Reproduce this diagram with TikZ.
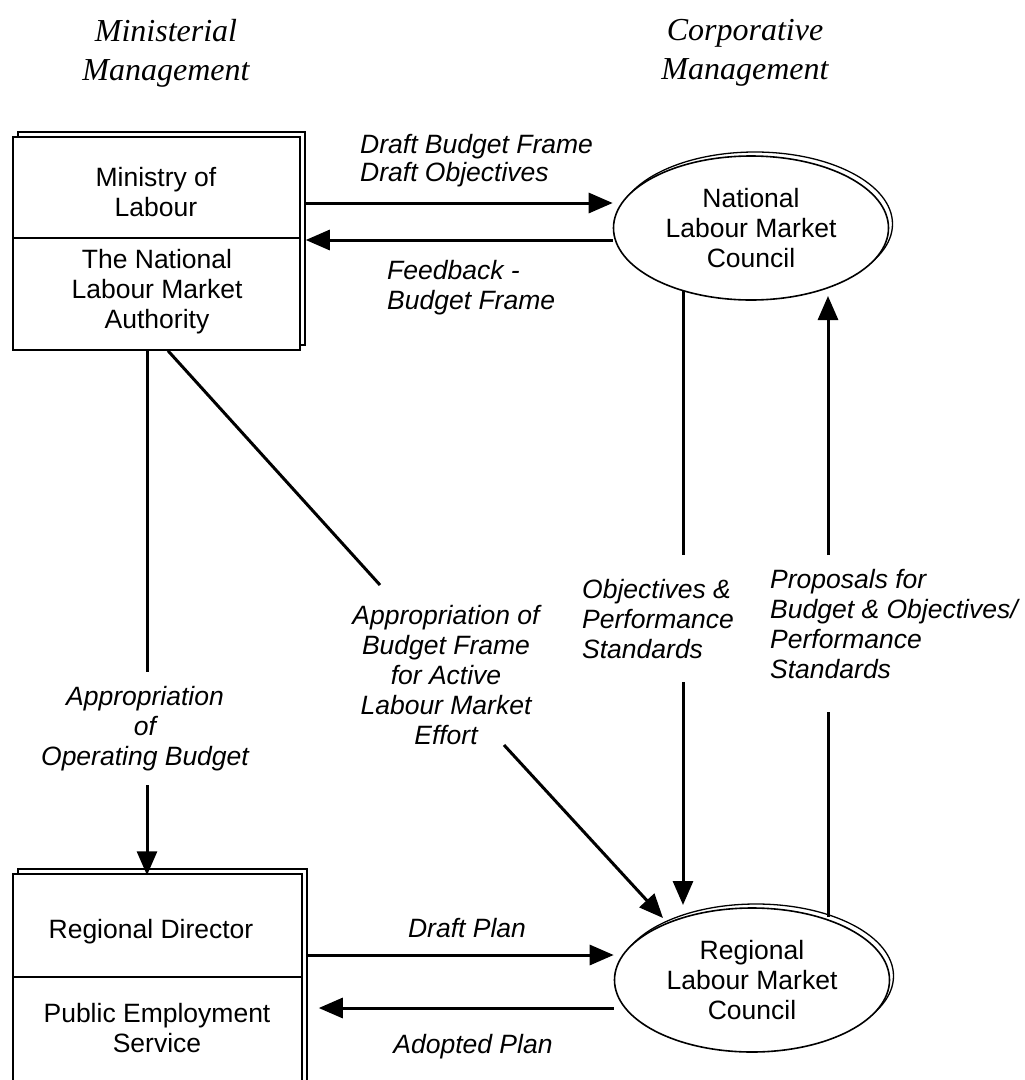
\documentclass[tikz,border=0pt]{standalone}
\usepackage{fontspec}
\newfontfamily\arialfont{Liberation Sans}
\newfontfamily\titlefont{Liberation Serif}
\usetikzlibrary{shapes.geometric,shadows,arrows.meta}
\begin{document}
\begin{tikzpicture}[x=1pt,y=-1pt,
  shadowbox/.style={draw=black, line width=1.5pt, fill=white, inner sep=0pt,
    copy shadow={shadow xshift=5pt, shadow yshift=5pt, draw=black, fill=white, line width=1.3pt}},
  council/.style={ellipse, draw=black, line width=1.6pt, fill=white, inner sep=0pt,
    minimum width=275pt, minimum height=144pt, align=center,
    font=\arialfont\fontsize{26.5}{30}\selectfont,
    copy shadow={shadow xshift=4pt, shadow yshift=4pt, draw=black, fill=white, line width=1.3pt}},
  boxtext/.style={inner sep=0pt, align=center, font=\arialfont\fontsize{26.5}{30}\selectfont},
  lab/.style={inner sep=0pt, font=\arialfont\itshape\fontsize{26.5}{30}\selectfont},
  heading/.style={inner sep=0pt, align=center, font=\titlefont\itshape\fontsize{32}{39}\selectfont},
  ln/.style={line width=3pt},
  arr/.style={line width=3pt, -{Triangle[length=24pt,width=20pt]}}
]
\useasboundingbox (0,0) rectangle (1025,1080);
\clip (0,0) rectangle (1025,1080);

% headings
\node[heading] (hmin) at (166,53) {Ministerial\\Management};
\node[heading] (hcor) at (745,53) {Corporative\\Management};

% top-left box
\node[shadowbox, minimum width=287pt, minimum height=213pt] (mol) at (156.5,243.5) {};
\draw[line width=1.2pt] (mol.west |- 0,238) -- (mol.east |- 0,238);
\node[boxtext] (molt) at (156,192) {Ministry of\\Labour};
\node[boxtext] (nlma) at (157,292) {The National\\Labour Market\\Authority};

% bottom-left box
\node[shadowbox, minimum width=289pt, minimum height=220pt] (rd) at (157.5,984) {};
\draw[line width=1.2pt] (rd.west |- 0,977) -- (rd.east |- 0,977);
\node[boxtext] (rdt) at (151,932) {Regional Director};
\node[boxtext] (pes) at (157,1028) {Public Employment\\Service};

% councils
\node[council] (nlmc) at (751,228) {National\\Labour Market\\Council};
\node[council] (rlmc) at (752,980) {Regional\\Labour Market\\Council};

% coordinates for line breaks around labels
\coordinate (nd1) at (683,291);
\coordinate (nd2) at (683,555);
\coordinate (nd3) at (683,682);
\coordinate (nd4) at (683,905);
\coordinate (ru1) at (828,917);
\coordinate (ru2) at (828,712);
\coordinate (ru3) at (828,555);
\coordinate (ru4) at (828,296);
\coordinate (ob1) at (147,672);
\coordinate (ob2) at (147,785);
\coordinate (dg1) at (380,585);
\coordinate (dg2) at (504,745);
\coordinate (dg3) at (663,918);

% top arrows
\draw[arr] (mol.east |- 0,203) ++(5,0) -- (nlmc.west |- 0,203);
\draw[arr] (nlmc.west |- 0,240) -- ([xshift=5pt]mol.east |- 0,240);
\node[lab, anchor=west, align=left] (l1) at (360,161) {Draft Budget Frame\\[-2pt]Draft Objectives};
\node[lab, anchor=west, align=left] (l2) at (387,288) {Feedback -\\Budget Frame};

% bottom arrows
\draw[arr] ([xshift=5pt]rd.east |- 0,955) -- (rlmc.west |- 0,955);
\draw[arr] (rlmc.west |- 0,1008) -- ([xshift=16pt]rd.east |- 0,1008);
\node[lab] (l3) at (467,928) {Draft Plan};
\node[lab] (l4) at (473,1047) {Adopted Plan};

% operating budget
\draw[ln] (mol.south -| ob1) -- (ob1);
\draw[arr] (ob2) -- ([yshift=-2pt]rd.north -| ob2);
\node[lab, align=center] (l5) at (145,729) {Appropriation\\of\\Operating Budget};

% active labour market effort
\draw[ln] (mol.south -| 168,0) -- (dg1);
\draw[arr] (dg2) -- (dg3);
\node[lab, align=center] (l6) at (446,675) {Appropriation of\\Budget Frame\\for Active\\Labour Market\\Effort};

% objectives & performance standards
\draw[ln] (nd1) -- (nd2);
\draw[arr] (nd3) -- (nd4);
\node[lab, anchor=west, align=left] (l7) at (582,619) {Objectives \&\\Performance\\Standards};

% proposals
\draw[ln] (ru1) -- (ru2);
\draw[arr] (ru3) -- (ru4);
\node[lab, anchor=west, align=left] (l8) at (770,624) {Proposals for\\Budget \& Objectives/\\Performance\\Standards};
\end{tikzpicture}
\end{document}
